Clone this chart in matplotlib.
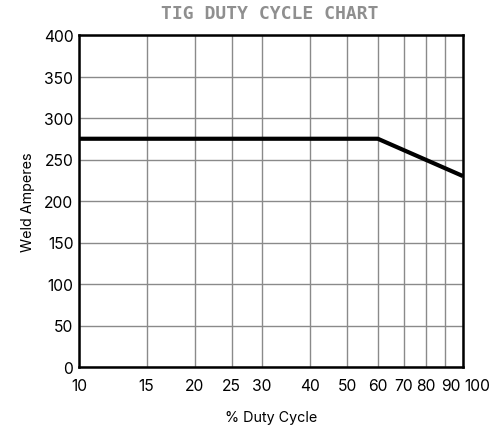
import matplotlib
matplotlib.use("Agg")
import matplotlib.pyplot as plt
import matplotlib.transforms as mtransforms
from matplotlib.ticker import FixedLocator, NullLocator

plt.rcParams['font.family'] = ['Inter', 'DejaVu Sans']

duty_cycle = [10, 60, 100]
weld_amps = [275, 275, 230]
x_ticks = [10, 15, 20, 25, 30, 40, 50, 60, 70, 80, 90, 100]
y_ticks = [0, 50, 100, 150, 200, 250, 300, 350, 400]

fig = plt.figure(figsize=(4.94, 4.27), dpi=100)
ax = fig.add_axes([79/494, 1-368/427, (463-79)/494, (368-36)/427])

ax.set_xscale('log')
ax.set_xlim(10, 100)
ax.set_ylim(0, 400)
ax.xaxis.set_major_locator(FixedLocator(x_ticks))
ax.xaxis.set_minor_locator(NullLocator())
ax.set_xticklabels([str(t) for t in x_ticks])
ax.set_yticks(y_ticks)
ax.grid(True, color='#8a8a8a', linewidth=1)
ax.tick_params(length=0, labelsize=11.3, colors='black')
ax.tick_params(axis='x', pad=8)
ax.tick_params(axis='y', pad=4)
for s in ax.spines.values():
    s.set_linewidth(1.8)
    s.set_color('black')

# nudge the crowded last labels to the right, as in the reference
labels = ax.get_xticklabels()
shifts = {'90': 5, '100': 14}
for lab in labels:
    dx = shifts.get(lab.get_text())
    if dx:
        lab.set_transform(lab.get_transform() +
                          mtransforms.ScaledTranslation(dx/100, 0, fig.dpi_scale_trans))

ax.plot(duty_cycle, weld_amps, color='black', linewidth=3, solid_capstyle='butt', zorder=3)

ax.set_xlabel('% Duty Cycle', fontsize=10.3, labelpad=12)
ax.set_ylabel('Weld Amperes', fontsize=10.3, labelpad=6)
fig.text(270/494, 1-14/427, 'TIG DUTY CYCLE CHART', ha='center', va='center',
         fontsize=13, fontweight='bold', color='#8f8f8f', family='DejaVu Sans Mono')

fig.savefig('out.png', dpi=100)
